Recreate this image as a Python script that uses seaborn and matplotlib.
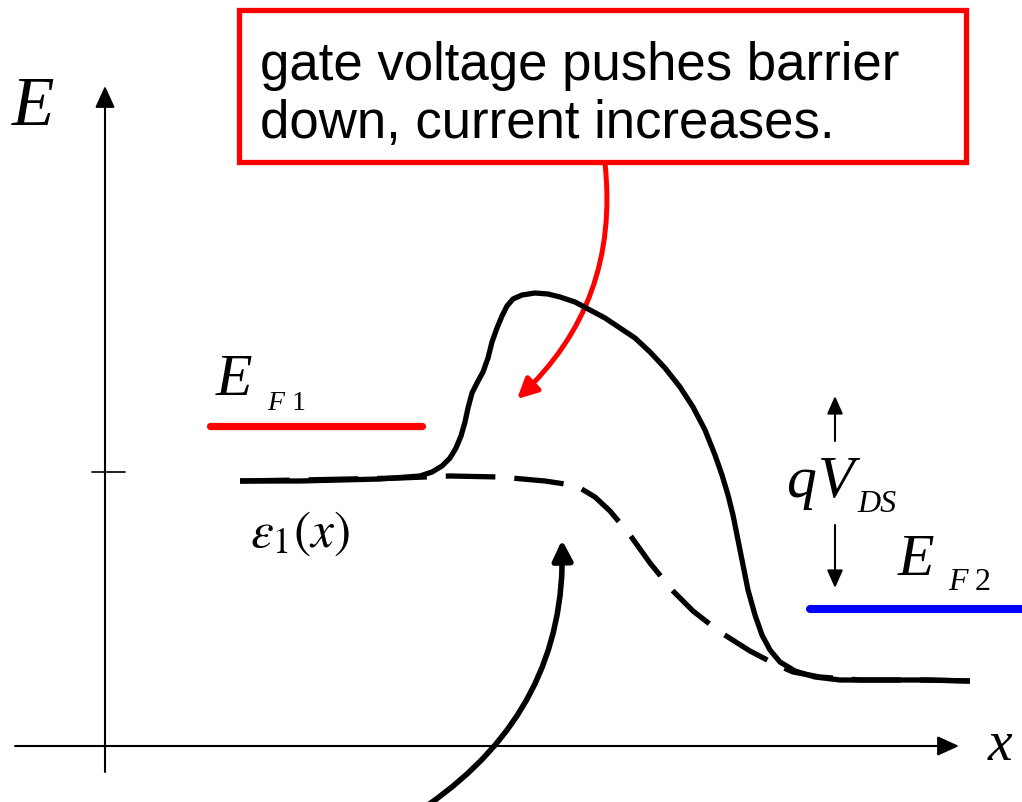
import matplotlib
matplotlib.use("Agg")
import matplotlib.pyplot as plt
import seaborn as sns
import pandas as pd
from matplotlib.patches import Rectangle, FancyArrowPatch

sns.set_theme(style="white")
plt.rcParams["mathtext.fontset"] = "stix"
plt.rcParams["text.color"] = "black"

# ---- data (pixel-like units, y downward) ----
solid_x = [240, 300, 380, 420, 432, 442, 450, 456, 461, 465, 468, 472, 477, 483, 488, 492, 497, 502, 507, 513, 522, 535, 548, 560,
           575, 590, 605, 620, 635, 650, 665, 680, 693, 705, 715, 722, 728, 733, 738, 743, 748, 755, 762, 770, 780, 795, 815, 840, 880, 930, 970]
solid_y = [481, 481, 479, 476, 472, 466, 458, 448, 436, 422, 408, 393, 383, 372, 358, 342, 328, 316, 306, 299, 295, 293, 294, 297,
           302, 310, 318, 328, 338, 352, 368, 387, 407, 430, 455, 475, 495, 515, 540, 565, 590, 615, 635, 650, 662, 671, 677, 680, 680, 680, 681]

dash_x = [240, 300, 400, 450, 500, 545, 565, 580, 595, 610, 630, 650, 672, 693, 720, 750, 775, 793, 820, 860, 920, 970]
dash_y = [481, 480, 478, 476, 477, 481, 484, 488, 497, 511, 535, 563, 590, 611, 632, 651, 664, 672, 677, 680, 680, 681]

ef1_x = [210, 422]
ef1_y = [426, 426]
ef2_x = [810, 1022]
ef2_y = [609, 609]

box_lines = ["gate voltage pushes barrier", "down, current increases."]

fig = plt.figure(figsize=(10.22, 8.02), dpi=100)
ax = fig.add_axes([0, 0, 1, 1])

df_s = pd.DataFrame({"x": solid_x, "y": solid_y})
df_d = pd.DataFrame({"x": dash_x, "y": dash_y})
sns.lineplot(data=df_d, x="x", y="y", ax=ax, sort=False, estimator=None,
             color="black", lw=3.8, linestyle=(0, (9.4, 3.6)))
sns.lineplot(data=df_s, x="x", y="y", ax=ax, sort=False, estimator=None,
             color="black", lw=3.8, solid_joinstyle="round", solid_capstyle="butt")
sns.lineplot(x=ef1_x, y=ef1_y, ax=ax, color="#ff0000", lw=5.2, estimator=None)
sns.lineplot(x=ef2_x, y=ef2_y, ax=ax, color="#0000ff", lw=5.8, estimator=None)
ax.set_xlim(0, 1022)
ax.set_ylim(802, 0)
ax.axis("off")

# axes arrows
ax.annotate("", xy=(105, 86), xytext=(105, 772),
            arrowprops=dict(arrowstyle="-|>,head_length=1.1,head_width=0.5", color="black", lw=1.5, shrinkA=0, shrinkB=0))
ax.annotate("", xy=(959, 746), xytext=(15, 746),
            arrowprops=dict(arrowstyle="-|>,head_length=1.1,head_width=0.5", color="black", lw=1.5, shrinkA=0, shrinkB=0))
ax.plot([92, 125], [472, 472], color="black", lw=1.2)

# qVDS arrows
ax.annotate("", xy=(835, 396), xytext=(835, 441),
            arrowprops=dict(arrowstyle="-|>,head_length=0.9,head_width=0.4", color="black", lw=1.5, shrinkA=0, shrinkB=0))
ax.annotate("", xy=(835, 588), xytext=(835, 525),
            arrowprops=dict(arrowstyle="-|>,head_length=0.9,head_width=0.4", color="black", lw=1.5, shrinkA=0, shrinkB=0))

# red curved arrow
ax.add_patch(FancyArrowPatch((605, 163), (517, 399), connectionstyle="arc3,rad=-0.25",
                             arrowstyle="-|>,head_length=6,head_width=3", color="#ff0000", lw=3.6,
                             shrinkA=0, shrinkB=0, mutation_scale=2.0))
# black curved arrow
ax.add_patch(FancyArrowPatch((428, 805), (562, 540), connectionstyle="arc3,rad=0.27",
                             arrowstyle="-|>,head_length=6,head_width=3", color="black", lw=4.0,
                             shrinkA=0, shrinkB=0, mutation_scale=2.0))

# text box
ax.add_patch(Rectangle((239, 10), 727, 152, fill=False, edgecolor="#ff0000", lw=3.8))
ax.text(260, 80, box_lines[0], fontsize=38, family="Liberation Sans", va="baseline", ha="left", color="black")
ax.text(260, 138, box_lines[1], fontsize=38, family="Liberation Sans", va="baseline", ha="left", color="black")

serif = "Liberation Serif"
ax.text(12, 125, "E", fontsize=50, family=serif, style="italic", va="baseline", color="black")
ax.text(1000, 760, "x", fontsize=40, family=serif, style="italic", va="baseline", ha="center", color="black")
ax.text(216, 395, "E", fontsize=43, family=serif, style="italic", va="baseline", color="black")
ax.text(267, 410, "F", fontsize=20, family=serif, style="italic", va="baseline", color="black")
ax.text(292, 410, "1", fontsize=20, family=serif, va="baseline", color="black")
ax.text(250, 547, r"$\varepsilon_1(x)$", fontsize=37, va="baseline", color="black")
ax.text(786, 497, "q", fontsize=43, family=serif, style="italic", va="baseline", color="black")
ax.text(818, 497, "V", fontsize=43, family=serif, style="italic", va="baseline", color="black")
ax.text(857, 512, "DS", fontsize=23, family=serif, style="italic", va="baseline", color="black")
ax.text(898, 575, "E", fontsize=43, family=serif, style="italic", va="baseline", color="black")
ax.text(948, 590, "F", fontsize=23, family=serif, style="italic", va="baseline", color="black")
ax.text(975, 590, "2", fontsize=23, family=serif, va="baseline", color="black")

fig.savefig("out.png", dpi=100)
